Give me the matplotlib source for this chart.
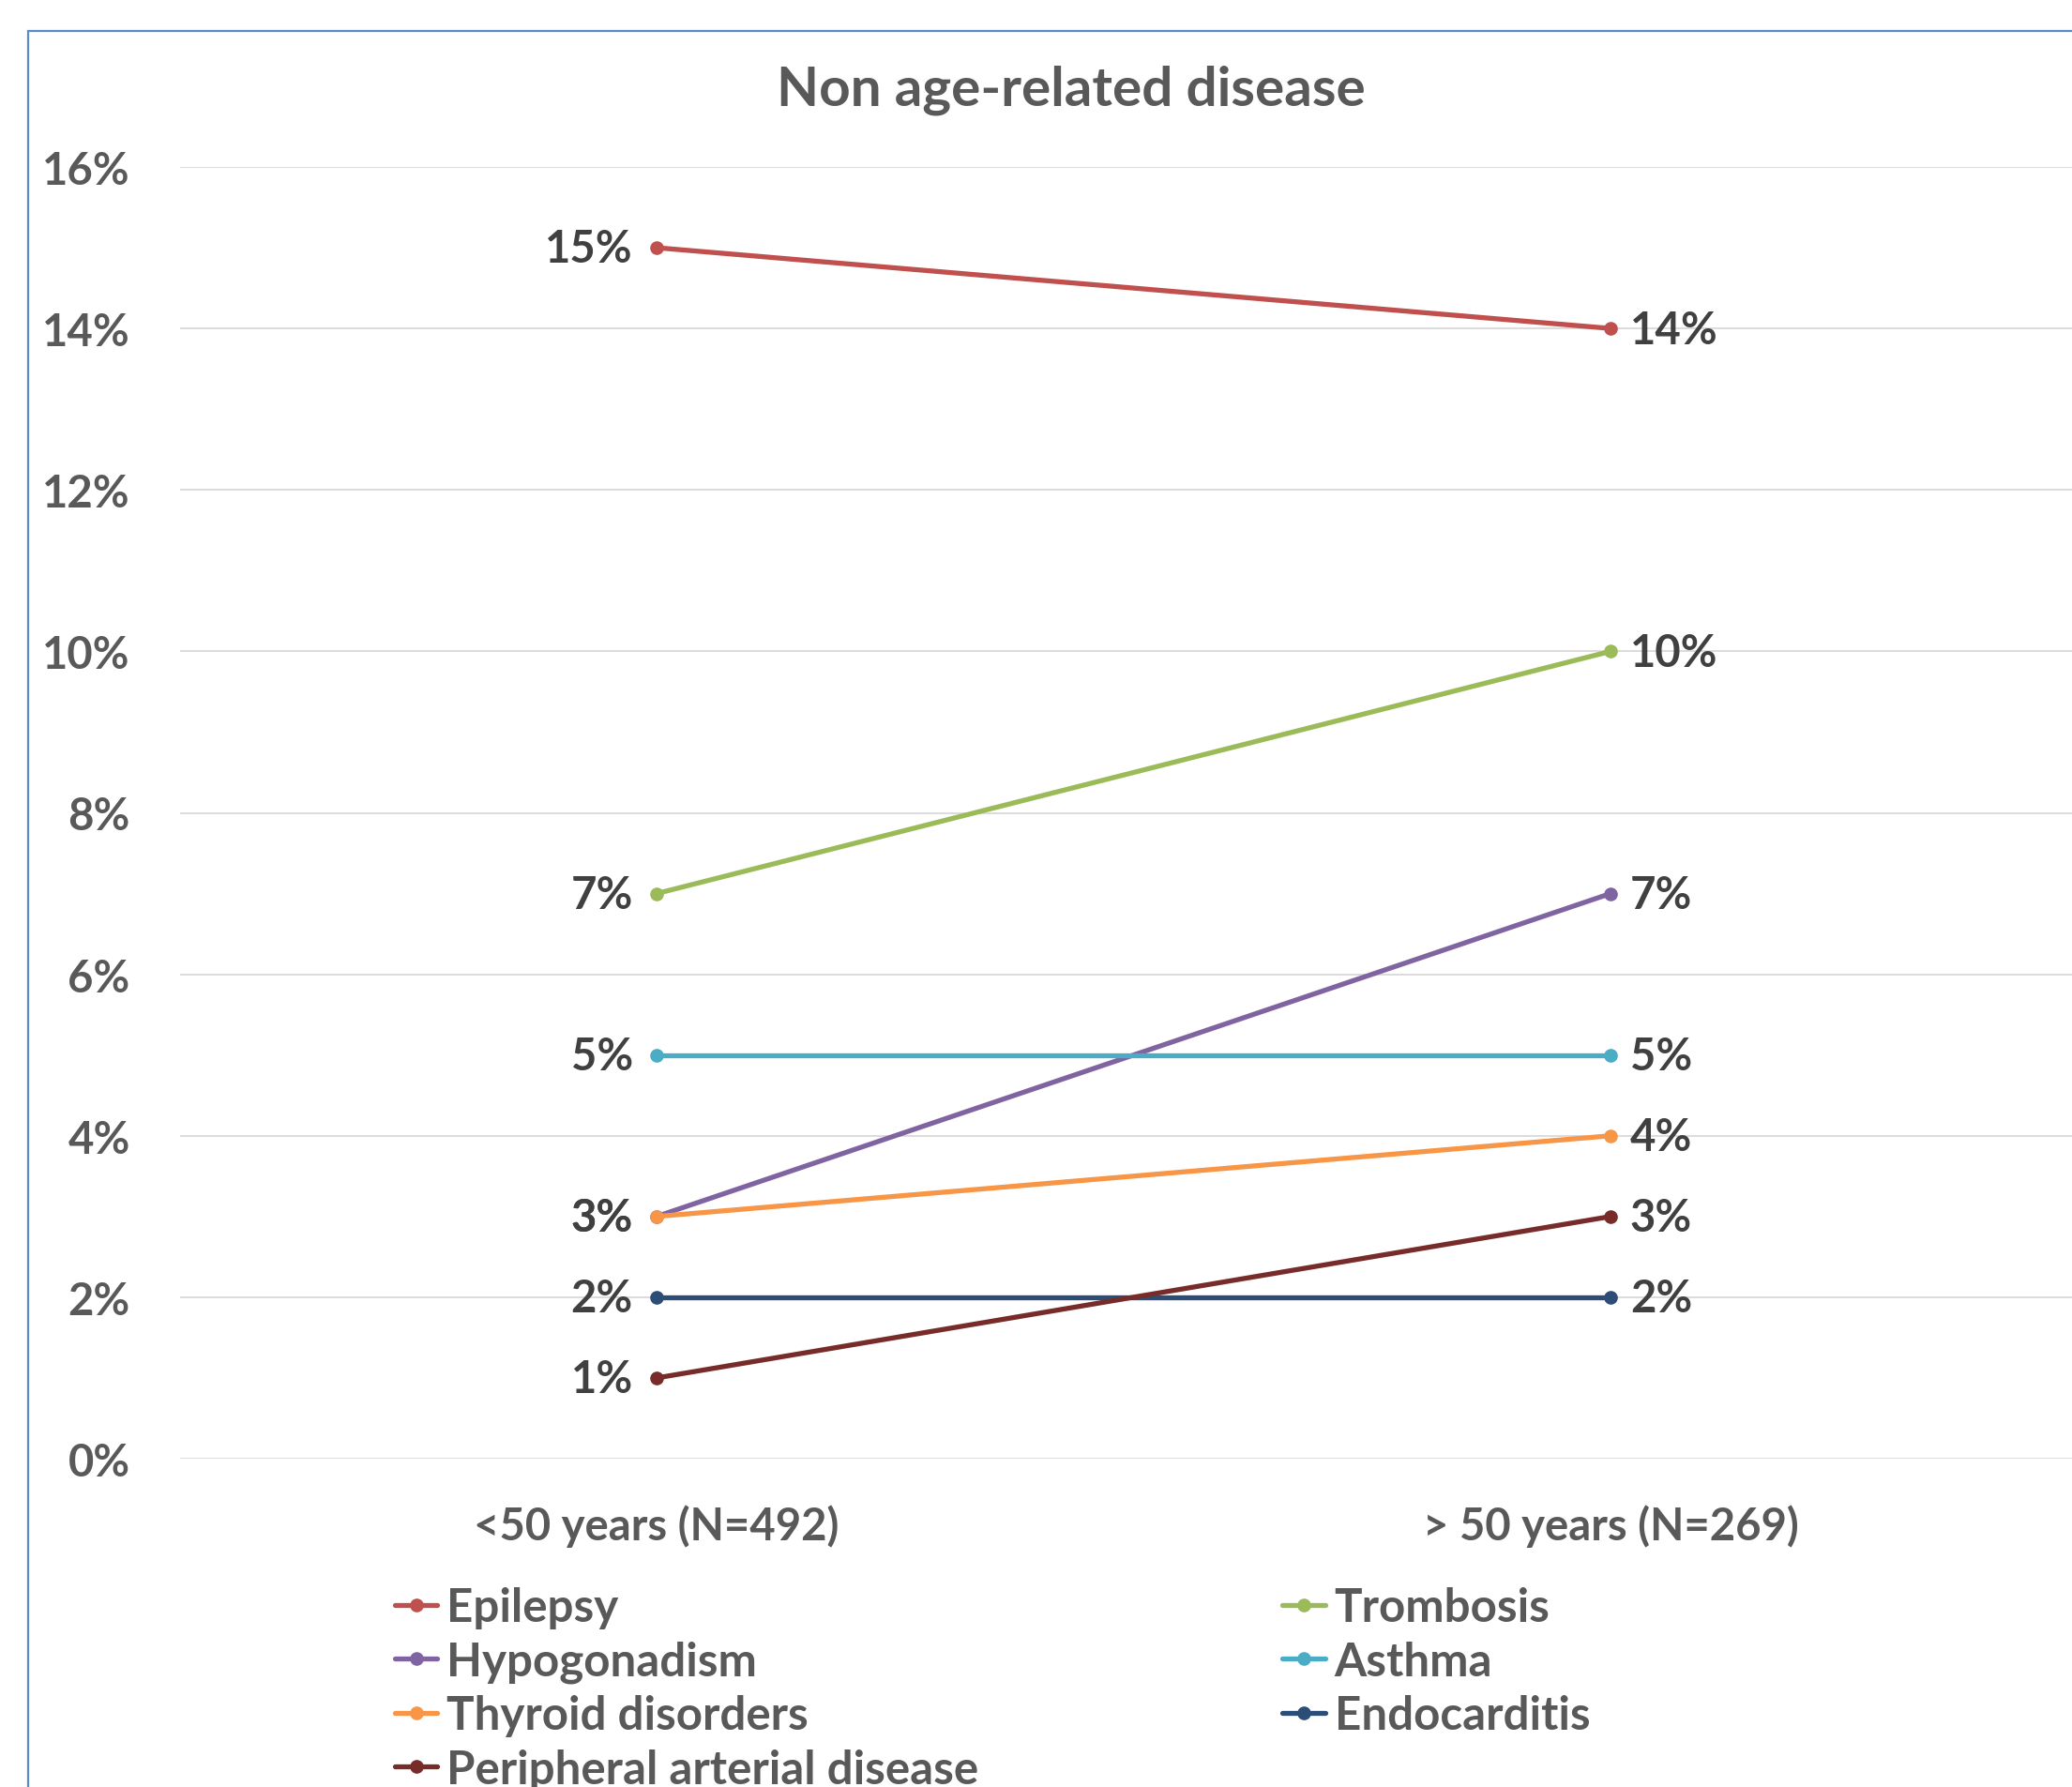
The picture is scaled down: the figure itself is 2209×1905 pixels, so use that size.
import matplotlib
matplotlib.use("Agg")
import matplotlib.pyplot as plt
from matplotlib.patches import Rectangle
from matplotlib.ticker import FuncFormatter

# Data (percent of patients in each age group)
categories = ["<50 years (N=492)", "> 50 years (N=269)"]
series_names = ["Epilepsy", "Trombosis", "Hypogonadism", "Asthma",
                "Thyroid disorders", "Endocarditis", "Peripheral arterial disease"]
epilepsy = [15, 14]
trombosis = [7, 10]
hypogonadism = [3, 7]
asthma = [5, 5]
thyroid = [3, 4]
endocarditis = [2, 2]
peripheral = [1, 3]
series_values = [epilepsy, trombosis, hypogonadism, asthma, thyroid, endocarditis, peripheral]
series_colors = ["#C0504D", "#9BBB59", "#8064A2", "#4BACC6",
                 "#F79646", "#2C4D75", "#772C2A"]
y_ticks = [0, 2, 4, 6, 8, 10, 12, 14, 16]
title = "Non age-related disease"

FONT = "Lato"
AXIS_GREY = "#595959"
LABEL_GREY = "#404040"
W, H, DPI = 2209, 1906, 100

fig = plt.figure(figsize=(W / DPI, H / DPI), dpi=DPI, facecolor="white")

# Chart frame
fig.patches.append(Rectangle((30 / W, -0.1), 1.2, 1 - 34 / H + 0.1,
                             transform=fig.transFigure, fill=False,
                             edgecolor="#5B8AC8", linewidth=1.6))

ax_left, ax_right = 191.5, 2225.5
ax_top, ax_bot = 179, 1556
ax = fig.add_axes([ax_left / W, 1 - ax_bot / H,
                   (ax_right - ax_left) / W, (ax_bot - ax_top) / H])
ax.set_facecolor("none")

x = list(range(len(categories)))
handles = []
for name, vals, col in zip(series_names, series_values, series_colors):
    h, = ax.plot(x, vals, color=col, lw=3.8, marker="o", markersize=9.5,
                 solid_capstyle="round", label=name, zorder=3, clip_on=False)
    handles.append(h)
    # value labels: left point to the left, right point to the right
    ax.annotate(f"{vals[0]}%", (x[0], vals[0]), xytext=(-18, -1),
                textcoords="offset points", ha="right", va="center",
                fontsize=34, fontweight="bold", color=LABEL_GREY, family=FONT)
    ax.annotate(f"{vals[1]}%", (x[1], vals[1]), xytext=(15, -1),
                textcoords="offset points", ha="left", va="center",
                fontsize=34, fontweight="bold", color=LABEL_GREY, family=FONT)

ax.set_xlim(-0.5, 1.5)
ax.set_ylim(0, 16)
ax.set_yticks(y_ticks)
ax.yaxis.set_major_formatter(FuncFormatter(lambda v, p: f"{v:.0f}%"))
ax.set_xticks(x)
ax.set_xticklabels(categories)
ax.grid(axis="y", color="#D9D9D9", lw=1.3, zorder=0)
ax.set_axisbelow(True)
for s in ax.spines.values():
    s.set_visible(False)
ax.tick_params(axis="both", length=0, labelcolor=AXIS_GREY, labelsize=34)
ax.tick_params(axis="y", pad=38)
ax.tick_params(axis="x", pad=35)
for lab in ax.get_xticklabels() + ax.get_yticklabels():
    lab.set_family(FONT)
    lab.set_fontweight("bold")

fig.text(1142 / W, 1 - 96 / H, title, ha="center", va="center",
         fontsize=42, fontweight="bold", color=AXIS_GREY, family=FONT)

# Legend: two columns, filled row by row
order = [0, 2, 4, 6, 1, 3, 5]
leg = fig.legend([handles[i] for i in order], [series_names[i] for i in order],
                 loc="center left", bbox_to_anchor=(421 / W, 1 - 1801 / H),
                 ncol=2, frameon=False, borderpad=0, borderaxespad=0,
                 handlelength=0.92, handletextpad=0.2, columnspacing=6.57,
                 labelspacing=0.25,
                 prop={"family": FONT, "weight": "bold", "size": 35.5})
for t in leg.get_texts():
    t.set_color(AXIS_GREY)

fig.savefig("out.png", dpi=DPI, facecolor="white")
